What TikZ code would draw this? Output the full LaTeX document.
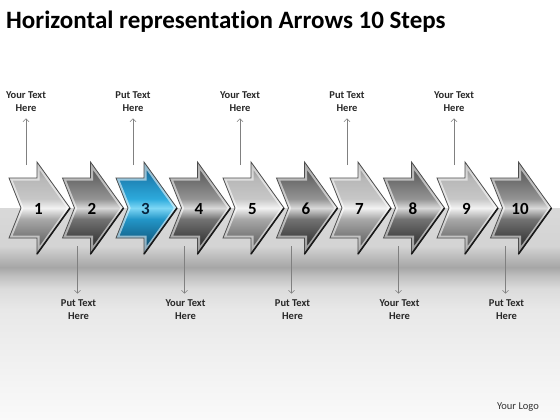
\documentclass[tikz,border=0pt]{standalone}
\usepackage{fontspec}
\setmainfont{Carlito}[Ligatures={NoCommon}]
\usetikzlibrary{arrows.meta}
\definecolor{labelc}{RGB}{40,40,40}
\definecolor{bA}{RGB}{10,55,85}
\definecolor{bB}{RGB}{20,100,140}
\definecolor{bC}{RGB}{35,150,200}
\definecolor{bD}{RGB}{125,215,245}
\definecolor{bE}{RGB}{45,170,220}
\definecolor{bF}{RGB}{30,130,180}
\definecolor{bG}{RGB}{20,90,130}
\definecolor{num3}{RGB}{8,35,60}
\pgfdeclareverticalshading{bandsh}{100bp}{color(0bp)=(black!2); color(25bp)=(black!2); color(51bp)=(black!9); color(56bp)=(black!14); color(59bp)=(black!25); color(61bp)=(black!35); color(63bp)=(black!28); color(66bp)=(black!17); color(75bp)=(black!15); color(100bp)=(black!15)}
\pgfdeclareverticalshading{silversh}{100bp}{color(0bp)=(black!75); color(25bp)=(black!75); color(33bp)=(black!55); color(44bp)=(black!34); color(50bp)=(black!5); color(55bp)=(black!22); color(66bp)=(black!28); color(75bp)=(black!50); color(100bp)=(black!50)}
\pgfdeclareverticalshading{darksh}{100bp}{color(0bp)=(black!88); color(25bp)=(black!88); color(33bp)=(black!75); color(44bp)=(black!55); color(50bp)=(black!15); color(55bp)=(black!42); color(66bp)=(black!58); color(75bp)=(black!72); color(100bp)=(black!72)}
\pgfdeclareverticalshading{bluesh}{100bp}{color(0bp)=(bA); color(25bp)=(bA); color(33bp)=(bB); color(44bp)=(bC); color(50bp)=(bD); color(55bp)=(bE); color(66bp)=(bF); color(75bp)=(bG); color(100bp)=(bG)}
\tikzset{
  numstyle/.style={font=\bfseries\fontsize{17}{20}\selectfont, inner sep=0pt},
  lbl/.style={align=center, font=\bfseries\fontsize{10.5}{13}\selectfont, text=labelc, inner sep=3.3pt},
  callout/.style={draw=black!50, line width=.5pt, -{Straight Barb[length=3pt,width=6pt]}},
  rimline/.style={draw=black!70, line width=.8pt, line join=miter},
  bevel/.style={draw=white, opacity=.55, line width=5pt},
}
\begin{document}
\begin{tikzpicture}[x=1pt,y=-1pt]
\useasboundingbox (0,0) rectangle (560,420);
\fill[white] (0,0) rectangle (560,420);
\shade[shading=bandsh] (0,208) rectangle (560,420);
\node[anchor=base west, font=\bfseries\fontsize{25}{29}\selectfont, inner sep=0pt] (title) at (6,29) {Horizontal representation Arrows 10 Steps};
\foreach \i/\sh/\nc in {1/silversh/black,2/darksh/black,3/bluesh/num3,4/darksh/black,5/silversh/black,6/darksh/black,7/silversh/black,8/darksh/black,9/silversh/black,10/darksh/black}{
  \pgfmathsetmacro\L{9+53.5*(\i-1)}
  \def\shp{(\L,178) -- (\L+28,178) -- (\L+28,162) -- (\L+61,208) -- (\L+28,254) -- (\L+28,238) -- (\L,238) -- (\L+12,208) -- cycle}
  \shade[shading=\sh] \shp;
  \begin{scope}
    \clip \shp;
    \draw[bevel] \shp;
  \end{scope}
  \draw[rimline] \shp;
  \draw[black!90, line width=1.6pt] (\L+61,208) -- (\L+28,254);
  \node[numstyle, text=\nc] (n\i) at (\L+29.5,209) {\i};
}
\foreach \i/\t in {1/Your,3/Put,5/Your,7/Put,9/Your}{
  \pgfmathsetmacro\L{9+53.5*(\i-1)}
  \coordinate (u\i) at (\L+17,165);
  \node[lbl] (t\i) at (\L+17,101.5) {\t{} Text\\Here};
  \draw[callout, shorten >=3.5pt] (u\i) -- (t\i.south);
}
\foreach \i/\t in {2/Put,4/Your,6/Put,8/Your,10/Put}{
  \pgfmathsetmacro\L{9+53.5*(\i-1)}
  \coordinate (d\i) at (\L+15,246);
  \node[lbl] (b\i) at (\L+16,310) {\t{} Text\\Here};
  \draw[callout, shorten >=3pt] (d\i) -- (d\i |- b\i.north);
}
\node[font=\fontsize{10.5}{12}\selectfont, text=black!80] (logo) at (518,407) {Your Logo};
\end{tikzpicture}
\end{document}
